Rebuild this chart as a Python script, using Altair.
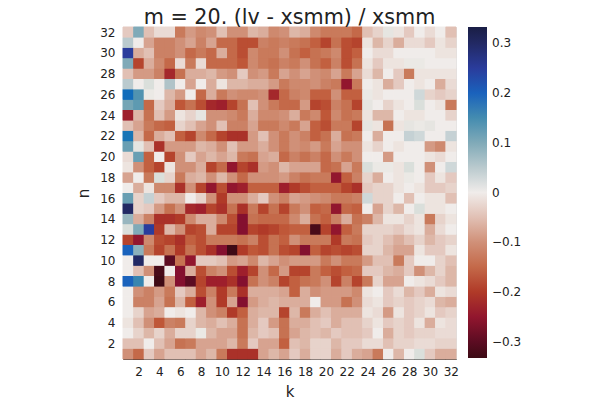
import altair as alt
import pandas as pd

# values per row n (k = 1..32)
row32 = [-0.04, 0.10, -0.05, -0.02, -0.02, -0.13, -0.09, -0.11, -0.10, -0.05, -0.10, -0.10, -0.06, -0.07, -0.11, -0.10, -0.06, -0.07, -0.11, -0.13, -0.13, -0.13, -0.15, -0.05, -0.03, 0.01, -0.01, -0.04, 0.00, -0.02, 0.00, -0.05]
row31 = [0.05, 0.00, -0.08, -0.12, -0.12, -0.10, -0.08, -0.12, -0.08, -0.15, -0.15, -0.18, -0.18, -0.12, -0.13, -0.12, -0.13, -0.14, -0.16, -0.19, -0.14, -0.18, -0.19, -0.01, -0.06, -0.03, -0.07, -0.02, -0.02, -0.04, -0.01, -0.03]
row30 = [0.25, -0.07, -0.05, -0.12, -0.12, -0.10, -0.15, -0.13, -0.15, -0.07, -0.15, -0.18, -0.11, -0.13, -0.13, -0.10, -0.14, -0.16, -0.14, -0.13, -0.11, -0.18, -0.16, 0.00, -0.02, -0.02, 0.00, 0.00, 0.00, 0.00, -0.01, -0.01]
row29 = [0.10, -0.19, -0.07, -0.11, -0.15, -0.02, -0.13, -0.02, -0.15, -0.15, -0.15, -0.17, -0.11, -0.13, -0.14, -0.12, -0.13, -0.10, -0.14, -0.16, -0.12, -0.18, -0.14, -0.01, -0.04, -0.01, -0.01, 0.005, 0.005, 0.00, 0.00, 0.00]
row28 = [-0.05, -0.09, -0.09, -0.12, -0.22, -0.14, -0.07, -0.07, -0.06, -0.09, -0.10, -0.04, -0.10, -0.09, -0.13, -0.08, -0.10, -0.08, -0.10, -0.11, -0.08, -0.13, -0.08, -0.02, -0.06, 0.00, -0.04, -0.13, -0.01, -0.01, -0.01, -0.01]
row27 = [0.05, 0.00, 0.02, 0.00, 0.06, 0.00, -0.08, 0.00, -0.07, -0.01, -0.06, -0.06, -0.07, -0.07, -0.09, -0.13, -0.11, -0.11, -0.10, -0.12, -0.13, -0.25, -0.13, 0.00, -0.01, -0.07, -0.04, 0.00, -0.01, 0.00, -0.07, -0.02]
row26 = [0.19, 0.14, 0.005, 0.00, -0.06, -0.09, 0.00, -0.15, -0.07, -0.13, -0.10, -0.11, -0.11, -0.10, -0.22, -0.15, -0.12, -0.11, -0.16, -0.16, -0.10, -0.16, -0.16, 0.005, -0.01, 0.00, 0.00, 0.00, 0.03, -0.03, -0.04, -0.03]
row25 = [0.11, 0.13, -0.15, -0.04, -0.07, -0.17, -0.14, -0.18, -0.22, -0.23, -0.19, -0.14, -0.05, -0.10, -0.13, -0.15, -0.15, -0.09, -0.19, -0.18, -0.12, -0.14, -0.19, 0.01, 0.00, -0.03, -0.01, 0.00, 0.02, 0.00, -0.01, -0.13]
row24 = [-0.23, -0.06, -0.14, -0.05, -0.09, -0.01, -0.03, 0.01, -0.10, -0.10, -0.11, -0.13, -0.07, -0.11, -0.11, -0.10, -0.07, -0.13, -0.11, -0.17, -0.11, -0.14, -0.13, -0.01, -0.06, -0.06, 0.00, -0.01, -0.01, 0.00, 0.00, -0.03]
row23 = [-0.05, -0.08, -0.13, -0.15, -0.16, -0.03, -0.05, -0.08, -0.10, -0.05, -0.12, -0.12, -0.08, -0.13, -0.13, -0.11, -0.13, -0.08, -0.16, -0.18, -0.13, -0.13, -0.19, 0.01, -0.01, -0.14, -0.01, 0.01, 0.005, 0.01, 0.00, 0.00]
row22 = [0.18, -0.06, -0.15, -0.07, -0.05, -0.16, -0.19, -0.11, -0.15, -0.19, -0.21, -0.21, -0.09, -0.05, -0.10, -0.13, -0.10, -0.12, -0.16, -0.14, -0.07, -0.14, -0.13, 0.00, -0.07, 0.00, 0.00, 0.04, 0.03, 0.00, 0.00, 0.04]
row21 = [0.12, 0.01, -0.05, -0.21, -0.09, -0.09, -0.09, -0.06, -0.07, -0.10, -0.05, -0.09, -0.09, -0.07, -0.10, -0.13, -0.10, -0.11, -0.09, -0.13, -0.08, -0.10, -0.10, -0.01, -0.03, 0.00, -0.01, 0.00, 0.00, -0.09, -0.11, -0.01]
row20 = [-0.02, 0.12, -0.16, 0.00, -0.19, -0.10, -0.04, -0.08, -0.06, -0.08, -0.06, -0.13, -0.14, -0.08, -0.07, -0.15, -0.12, -0.14, -0.12, -0.15, -0.10, -0.13, -0.10, 0.00, 0.00, -0.09, 0.00, 0.00, 0.00, -0.01, -0.02, 0.00]
row19 = [-0.01, -0.10, -0.16, -0.19, -0.01, -0.10, -0.10, -0.07, -0.19, -0.15, -0.25, -0.19, -0.21, -0.09, -0.10, -0.06, -0.08, -0.08, -0.08, -0.15, -0.14, -0.08, -0.13, 0.02, 0.005, 0.005, -0.01, 0.02, 0.00, -0.10, 0.00, 0.03]
row18 = [-0.08, 0.00, -0.13, 0.02, -0.03, -0.13, -0.07, -0.06, -0.10, -0.06, -0.10, -0.15, -0.10, -0.10, -0.10, -0.09, -0.12, -0.14, -0.13, -0.13, -0.25, -0.16, -0.12, -0.03, -0.07, 0.00, -0.01, 0.005, 0.00, -0.04, -0.01, -0.04]
row17 = [0.00, -0.07, -0.01, -0.11, -0.11, -0.21, -0.10, -0.19, -0.25, -0.18, -0.25, -0.23, -0.16, -0.16, -0.16, -0.23, -0.20, -0.18, -0.16, -0.16, -0.16, -0.19, -0.21, -0.04, -0.03, -0.03, -0.01, 0.00, -0.01, -0.04, -0.04, -0.03]
row16 = [0.12, -0.03, 0.04, -0.04, -0.06, -0.06, 0.00, -0.03, -0.10, -0.20, -0.10, -0.10, -0.07, -0.04, -0.10, -0.12, -0.08, -0.09, -0.10, -0.11, -0.13, -0.13, -0.12, 0.03, -0.03, -0.03, 0.00, -0.05, 0.00, -0.01, -0.01, -0.05]
row15 = [0.30, -0.03, -0.04, -0.09, -0.14, -0.10, -0.22, -0.23, -0.19, -0.21, -0.14, -0.21, -0.13, -0.19, -0.14, -0.19, -0.13, -0.10, -0.16, -0.15, -0.25, -0.15, -0.16, 0.00, -0.08, -0.03, -0.06, 0.00, 0.02, -0.01, -0.01, 0.00]
row14 = [0.08, -0.07, -0.12, -0.21, -0.21, -0.20, -0.11, -0.07, -0.07, -0.11, -0.18, -0.27, -0.14, -0.15, -0.15, -0.15, -0.11, -0.07, -0.14, -0.16, -0.12, -0.07, -0.14, -0.12, -0.06, -0.01, -0.01, -0.03, -0.01, -0.13, -0.03, -0.01]
row13 = [0.02, 0.10, 0.25, -0.20, -0.06, -0.10, -0.19, -0.18, -0.07, -0.19, -0.19, -0.27, -0.19, -0.20, -0.19, -0.17, -0.16, -0.16, -0.32, -0.19, -0.25, -0.16, -0.13, -0.03, -0.03, -0.03, -0.04, -0.02, -0.01, -0.07, -0.02, 0.00]
row12 = [-0.19, -0.25, -0.11, -0.18, -0.19, -0.21, -0.16, -0.18, -0.13, -0.13, -0.13, -0.14, -0.12, -0.18, -0.14, -0.16, -0.10, -0.13, -0.13, -0.13, -0.20, -0.13, -0.14, -0.04, -0.03, -0.05, -0.07, -0.05, -0.03, -0.06, -0.04, -0.03]
row11 = [0.20, 0.09, -0.13, -0.19, -0.14, -0.20, -0.14, -0.18, -0.21, -0.27, -0.33, -0.20, -0.17, -0.18, -0.14, -0.18, -0.19, -0.27, -0.16, -0.19, -0.18, -0.19, -0.18, -0.03, -0.03, -0.06, -0.08, -0.08, -0.01, -0.04, -0.04, -0.01]
row10 = [0.00, 0.30, 0.00, 0.00, -0.30, -0.14, -0.25, -0.04, -0.04, -0.05, -0.09, -0.08, -0.11, -0.06, -0.08, -0.10, -0.09, -0.09, -0.09, -0.13, -0.10, -0.13, -0.13, -0.09, -0.05, -0.05, -0.13, -0.04, 0.00, 0.00, -0.03, -0.05]
row9 = [0.00, -0.05, -0.10, -0.32, 0.00, -0.27, -0.07, -0.18, -0.12, -0.10, -0.18, -0.23, -0.19, -0.10, -0.15, -0.09, -0.19, -0.19, -0.13, -0.16, -0.18, -0.16, -0.15, -0.04, -0.04, -0.06, -0.07, -0.04, -0.10, -0.06, -0.03, -0.06]
row8 = [0.20, 0.16, 0.00, -0.33, -0.10, -0.27, -0.30, -0.19, -0.23, -0.23, -0.21, -0.27, -0.14, -0.10, -0.12, -0.19, -0.16, -0.14, -0.13, -0.10, -0.19, -0.12, -0.19, -0.13, -0.03, -0.08, -0.08, 0.00, -0.01, -0.02, -0.04, -0.06]
row7 = [0.00, -0.10, -0.12, -0.09, -0.13, -0.04, -0.07, -0.18, -0.12, -0.20, -0.13, -0.21, -0.07, -0.07, -0.07, -0.08, -0.16, -0.07, -0.10, -0.09, -0.09, -0.09, -0.11, -0.01, 0.00, -0.04, -0.02, -0.06, -0.04, -0.07, -0.01, -0.02]
row6 = [0.00, -0.12, -0.12, -0.08, -0.14, -0.06, -0.16, -0.23, -0.10, -0.20, -0.08, -0.27, -0.09, -0.07, -0.06, -0.07, -0.07, -0.07, 0.00, -0.09, -0.09, -0.14, -0.10, -0.02, -0.01, -0.04, -0.03, -0.04, -0.03, -0.02, -0.06, -0.07]
row5 = [0.00, -0.03, -0.08, -0.07, 0.00, -0.01, 0.00, -0.06, -0.10, -0.12, -0.20, -0.16, -0.07, -0.06, -0.06, -0.19, -0.06, -0.13, -0.07, -0.05, -0.07, -0.07, -0.07, -0.01, -0.02, -0.09, -0.01, -0.04, -0.03, -0.01, -0.04, -0.03]
row4 = [-0.01, -0.05, -0.10, -0.17, -0.12, -0.13, -0.03, -0.06, -0.07, -0.05, -0.07, -0.14, -0.07, -0.04, -0.09, -0.14, -0.07, -0.07, -0.05, -0.04, -0.07, -0.05, -0.05, -0.03, -0.01, -0.04, -0.03, -0.04, -0.01, -0.07, -0.01, -0.02]
row3 = [0.00, -0.03, -0.06, -0.03, -0.07, -0.03, -0.03, 0.005, -0.06, -0.08, -0.08, -0.14, -0.06, -0.04, -0.05, -0.14, -0.08, -0.06, -0.05, -0.06, -0.04, -0.05, -0.05, -0.04, 0.00, -0.07, -0.03, -0.04, -0.03, -0.03, -0.02, -0.02]
row2 = [-0.05, -0.05, 0.00, -0.05, -0.08, -0.14, -0.13, -0.08, -0.08, -0.08, -0.06, -0.13, -0.04, -0.08, -0.08, -0.16, -0.05, -0.06, -0.03, -0.03, -0.06, -0.04, -0.04, -0.02, -0.02, -0.05, -0.03, -0.03, -0.02, -0.02, -0.03, -0.03]
row1 = [-0.10, -0.15, -0.04, -0.08, -0.05, -0.05, -0.05, -0.08, -0.06, -0.13, -0.21, -0.21, -0.21, -0.08, -0.06, -0.08, -0.04, -0.07, -0.03, -0.03, -0.07, -0.04, -0.07, -0.08, -0.13, 0.00, -0.06, 0.00, 0.02, -0.04, -0.07, -0.07]

rows = [row1, row2, row3, row4, row5, row6, row7, row8, row9, row10, row11, row12,
        row13, row14, row15, row16, row17, row18, row19, row20, row21, row22, row23,
        row24, row25, row26, row27, row28, row29, row30, row31, row32]

tick_values = list(range(2, 33, 2))
cbar_ticks = [0.3, 0.2, 0.1, 0.0, -0.1, -0.2, -0.3]

# reversed "balance"-like diverging palette
c_domain = [-0.333, -0.3, -0.267, -0.233, -0.2, -0.167, -0.133, -0.1, -0.067, -0.033, 0.0,
            0.033, 0.067, 0.1, 0.133, 0.167, 0.2, 0.25, 0.28, 0.333]
c_range = ["#3c0a14", "#5c0c22", "#881030", "#9c1c2c", "#b03a28", "#c05a3a", "#c87858",
           "#d09078", "#dbb0a0", "#e6d0c8", "#f0ecea",
           "#cdd6d8", "#a8bec4", "#80aab8", "#5a98b0", "#3080b0", "#1a62bc", "#2a3c9c",
           "#272f78", "#1a1e45"]

recs = []
for n, row in enumerate(rows, start=1):
    for k, v in enumerate(row, start=1):
        recs.append({"k0": k - 0.5, "k1": k + 0.5, "n0": n - 0.5, "n1": n + 0.5,
                     "v": v, "vs": v})
df = pd.DataFrame(recs)

FONT = "DejaVu Sans"

xenc = alt.X("k0:Q", scale=alt.Scale(domain=[0.5, 32.5], nice=False, zero=False),
             axis=alt.Axis(values=tick_values, title="k", grid=False, ticks=False,
                           labelPadding=7, labelFontSize=12, titleFontSize=15,
                           titleFontWeight="normal", titlePadding=7, labelFont=FONT,
                           titleFont=FONT, domainColor="#333", labelColor="#222",
                           titleColor="#222"))
yenc = alt.Y("n0:Q", scale=alt.Scale(domain=[0.5, 32.5], nice=False, zero=False),
             axis=alt.Axis(values=tick_values, title="n", grid=False, ticks=False,
                           labelPadding=8, labelFontSize=12, titleFontSize=15,
                           titleFontWeight="normal", titlePadding=8, labelFont=FONT,
                           titleFont=FONT, domainColor="#333", labelColor="#222",
                           titleColor="#222"))

base = alt.Chart(df)

# underlay: same cells, outlined in their own colour to hide anti-aliasing seams
under = base.mark_rect(strokeWidth=1).encode(
    x=xenc, x2="k1:Q", y=yenc, y2="n1:Q",
    stroke=alt.Stroke("vs:Q", scale=alt.Scale(domain=c_domain, range=c_range), legend=None),
    fill=alt.Fill("vs:Q", scale=alt.Scale(domain=c_domain, range=c_range), legend=None),
)

cells = base.mark_rect().encode(
    x=xenc, x2="k1:Q", y=yenc, y2="n1:Q",
    color=alt.Color("v:Q", scale=alt.Scale(domain=c_domain, range=c_range),
                    legend=alt.Legend(type="gradient", title=None, orient="right", offset=12,
                                      padding=0, gradientLength=331, gradientThickness=19,
                                      gradientStrokeWidth=0, values=cbar_ticks,
                                      format=".1~f", labelFontSize=12, labelFont=FONT,
                                      labelColor="#222", labelOffset=5,
                                      labelOverlap=False, direction="vertical")),
)

chart = alt.layer(under, cells).resolve_scale(
    fill="independent", stroke="independent", color="independent"
).properties(
    width=333, height=332,
    title=alt.TitleParams("m = 20. (lv - xsmm) / xsmm", fontSize=20.7, font=FONT,
                          fontWeight="normal", anchor="middle", color="#222", offset=2,
                          dy=5),
    autosize=alt.AutoSizeParams(type="none"),
    padding={"left": 123, "top": 27, "right": 144, "bottom": 41},
).configure_view(strokeWidth=0).configure(background="white")

chart.save("out.html", embed_options={"renderer": "svg", "actions": False})
